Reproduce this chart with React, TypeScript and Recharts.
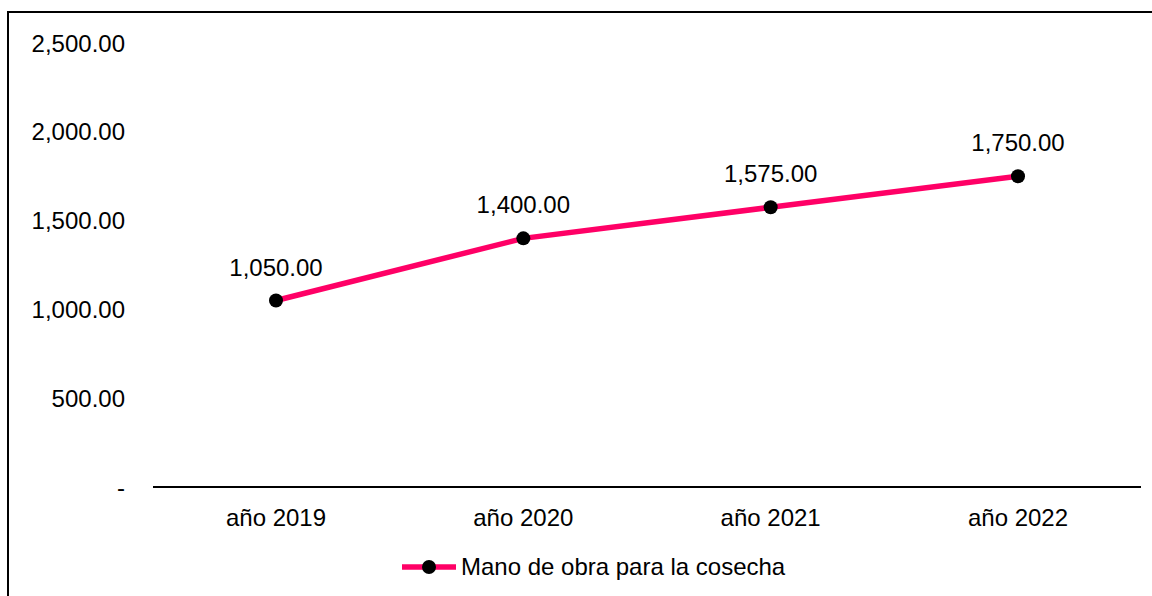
import React from 'react';
import { LineChart, Line, XAxis, YAxis, Legend, LabelList } from 'recharts';

const years = ['año 2019', 'año 2020', 'año 2021', 'año 2022'];
const harvestLabor = [1050, 1400, 1575, 1750];
const yTicks = [0, 500, 1000, 1500, 2000, 2500];
const seriesName = 'Mano de obra para la cosecha';

const chartData = years.map((year, i) => ({ year, value: harvestLabor[i] }));

const FONT = '"Liberation Sans", Arial, sans-serif';
const PINK = '#FF0066';
const FS = 24;

const fmt = (v: number) =>
  v === 0
    ? '-'
    : v.toLocaleString('en-US', { minimumFractionDigits: 2, maximumFractionDigits: 2 });

const LegendBox = () => (
  <div style={{ display: 'flex', alignItems: 'center', fontFamily: FONT, fontSize: FS, color: '#000', whiteSpace: 'nowrap' }}>
    <svg width={58} height={20}>
      <line x1={2} y1={10} x2={56} y2={10} stroke={PINK} strokeWidth={5.5} />
      <circle cx={29} cy={10} r={7} fill="#000" />
    </svg>
    <span style={{ marginLeft: 3 }}>{seriesName}</span>
  </div>
);

const App: React.FC = () => {
  return (
    <div style={{ position: 'absolute', left: 0, top: 0, width: 1152, height: 596, overflow: 'hidden', background: '#fff' }}>
      <div
        style={{
          position: 'absolute',
          left: 7,
          top: 11,
          width: 1200,
          height: 700,
          borderLeft: '2px solid #000',
          borderTop: '2px solid #000',
        }}
      />
      <div style={{ position: 'absolute', left: 0, top: 0 }}>
        <LineChart
          width={1152}
          height={596}
          data={chartData}
          margin={{ top: 43, right: 11, bottom: 69, left: 0 }}
          style={{ fontFamily: FONT }}
        >
          <XAxis
            dataKey="year"
            tickLine={false}
            axisLine={{ stroke: '#000', strokeWidth: 2 }}
            tick={{ fill: '#000', fontSize: FS }}
            tickMargin={16}
            height={40}
            padding={{ left: 123, right: 123 }}
            interval={0}
          />
          <YAxis
            domain={[0, 2500]}
            ticks={yTicks}
            tickFormatter={fmt}
            tickLine={false}
            axisLine={false}
            tick={{ fill: '#000', fontSize: FS }}
            tickMargin={22}
            width={153}
            interval={0}
          />
          <Legend
            verticalAlign="middle"
            content={() => <LegendBox />}
            wrapperStyle={{ left: 400, top: 553, width: 520 }}
          />
          <Line
            type="linear"
            dataKey="value"
            name={seriesName}
            stroke={PINK}
            strokeWidth={5.5}
            dot={{ r: 7, fill: '#000', stroke: '#000', strokeWidth: 0 }}
            activeDot={false}
            isAnimationActive={false}
          >
            <LabelList dataKey="value" position="top" offset={25} formatter={(v: any) => fmt(Number(v))} fill="#000" fontSize={FS} />
          </Line>
        </LineChart>
      </div>
    </div>
  );
};

export default App;
